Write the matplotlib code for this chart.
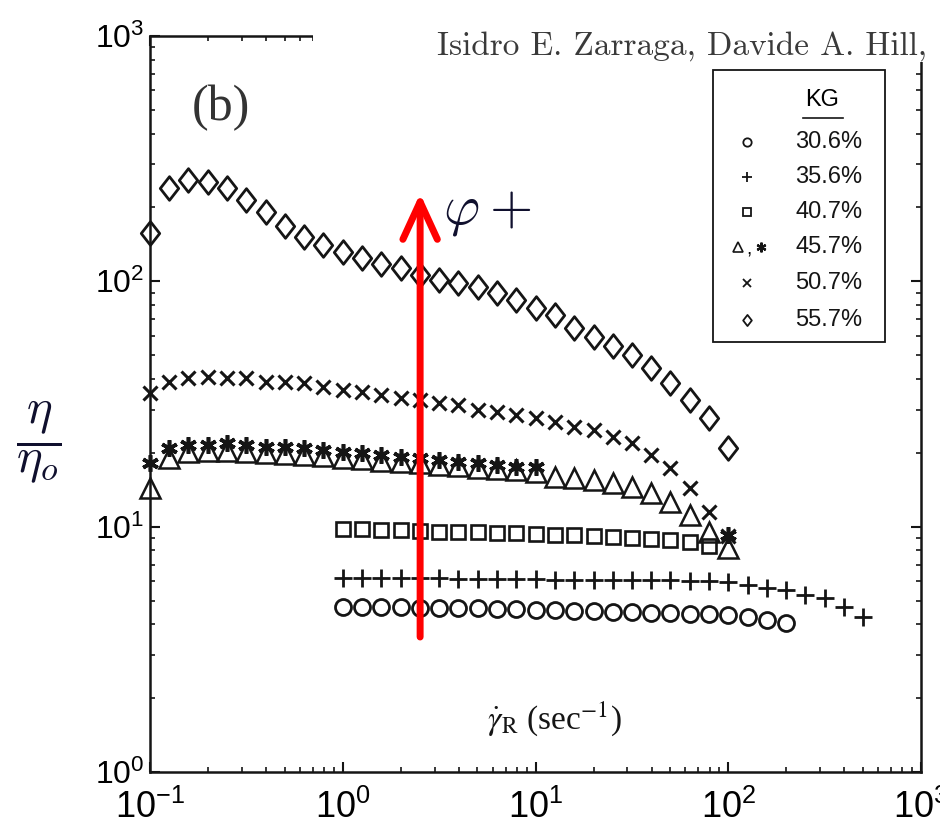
import matplotlib
matplotlib.use("Agg")
import matplotlib.pyplot as plt
from matplotlib.path import Path
from matplotlib.patches import Rectangle
from matplotlib.ticker import FuncFormatter, LogLocator
import numpy as np

# Shear rates (sec^-1), common grid used by all series
shear_rate = [0.1, 0.126, 0.158, 0.2, 0.251, 0.316, 0.398, 0.501, 0.631, 0.794,
              1.0, 1.26, 1.58, 2.0, 2.51, 3.16, 3.98, 5.01, 6.31, 7.94,
              10.0, 12.6, 15.8, 20.0, 25.1, 31.6, 39.8, 50.1, 63.1, 79.4,
              100.0, 126, 158, 200, 251, 316, 398, 501]

# Relative viscosity eta/eta_o
kg_306 = [4.71, 4.71, 4.71, 4.71, 4.66, 4.66, 4.66, 4.66, 4.62, 4.62, 4.58, 4.58,
          4.53, 4.53, 4.49, 4.49, 4.45, 4.45, 4.41, 4.41, 4.37, 4.28, 4.17, 4.05]
kg_356 = [6.18, 6.18, 6.18, 6.18, 6.18, 6.18, 6.12, 6.12, 6.12, 6.12, 6.12,
          6.06, 6.06, 6.06, 6.06, 6.06, 6.06, 6.06, 6.01, 6.01,
          5.95, 5.79, 5.62, 5.52, 5.27, 5.12, 4.71, 4.28]
kg_407 = [9.79, 9.79, 9.70, 9.70, 9.61, 9.51, 9.51, 9.51, 9.43, 9.43,
          9.34, 9.25, 9.25, 9.17, 9.08, 9.00, 8.91, 8.83, 8.66, 8.34]
kg_457_tri = [14.4, 19.1, 20.2, 20.4, 20.4, 20.2, 20.0, 19.8, 19.6, 19.4, 19.1,
              18.9, 18.5, 18.4, 18.2, 17.8, 17.7, 17.3, 17.2, 17.0, 16.7,
              15.9, 15.8, 15.5, 15.1, 14.5, 13.7, 12.6, 11.2, 9.51, 8.19]
kg_457_star = [18.2, 20.9, 21.5, 21.5, 21.9, 21.5, 21.1, 21.1, 20.9, 20.5, 20.2,
               20.0, 19.6, 19.2, 19.1, 18.7, 18.4, 18.2, 17.8, 17.5, 17.5, 9.25]
kg_507 = [35.1, 38.9, 40.4, 40.8, 40.4, 40.4, 38.9, 38.9, 38.5, 37.1, 36.1,
          35.4, 34.4, 33.5, 32.9, 31.9, 31.3, 29.9, 29.4, 28.5, 27.7,
          26.7, 25.5, 24.8, 23.2, 21.9, 19.6, 17.3, 14.4, 11.5, 9.16]
kg_557 = [157.5, 240, 259, 254, 240, 215, 192, 168, 152, 141, 132,
          125, 118, 113, 106, 101, 98.5, 94.9, 89.7, 84.0, 77.9,
          73.0, 64.6, 59.3, 54.5, 50.1, 44.4, 38.5, 32.9, 27.7, 20.9]

legend_labels = ["30.6%", "35.6%", "40.7%", "45.7%", "50.7%", "55.7%"]

plt.rcParams['mathtext.fontset'] = 'custom'
plt.rcParams['mathtext.rm'] = 'Liberation Sans'
plt.rcParams['mathtext.it'] = 'Liberation Sans:italic'
plt.rcParams['mathtext.bf'] = 'Liberation Sans:bold'
plt.rcParams['font.family'] = ['Liberation Sans', 'DejaVu Sans']

ink = '#151515'
tall_diamond = Path([(0, 1), (0.78, 0), (0, -1), (-0.78, 0), (0, 1)],
                    [Path.MOVETO, Path.LINETO, Path.LINETO, Path.LINETO, Path.CLOSEPOLY])

fig = plt.figure(figsize=(9.4, 8.34), dpi=100)
ax = fig.add_axes([150 / 940, 62 / 834, 771 / 940, 736 / 834])
ax.set_xscale('log')
ax.set_yscale('log')
ax.set_xlim(0.1, 1000)
ax.set_ylim(1, 1000)

common = dict(linestyle='none', color=ink, clip_on=False, zorder=3)
ax.plot(shear_rate[10:34], kg_306, marker='o', ms=11.5, mfc='none', mew=2.0, **common)
ax.plot(shear_rate[10:38], kg_356, marker='+', ms=13, mew=2.0, **common)
ax.plot(shear_rate[10:30], kg_407, marker='s', ms=10.5, mfc='none', mew=1.9, **common)
ax.plot(shear_rate[0:31], kg_457_tri, marker='^', ms=14, mfc='none', mew=1.8, **common)
ax.plot(shear_rate[0:21] + shear_rate[30:31], kg_457_star, marker=(6, 2, 0),
        ms=12, mew=2.6, **common)
ax.plot(shear_rate[0:31], kg_507, marker='x', ms=10.5, mew=2.2, **common)
ax.plot(shear_rate[0:31], kg_557, marker=tall_diamond, ms=17, mfc='none', mew=2.0, **common)

# axes styling
for s in ax.spines.values():
    s.set_linewidth(1.8)
    s.set_color(ink)
ax.xaxis.set_major_locator(LogLocator(base=10, numticks=10))
ax.yaxis.set_major_locator(LogLocator(base=10, numticks=10))
ax.xaxis.set_minor_locator(LogLocator(base=10, subs=np.arange(2, 10), numticks=20))
ax.yaxis.set_minor_locator(LogLocator(base=10, subs=np.arange(2, 10), numticks=20))
fmt = FuncFormatter(lambda v, p: r'$\mathregular{10^{%d}}$' % round(np.log10(v)))
ax.xaxis.set_major_formatter(fmt)
ax.yaxis.set_major_formatter(fmt)
ax.tick_params(which='both', direction='in', top=True, right=True, color=ink)
ax.tick_params(which='major', length=7, width=1.5)
ax.tick_params(which='minor', length=3.5, width=1.2)
ax.tick_params(axis='x', labelsize=26, pad=13)
ax.tick_params(axis='y', labelsize=23, pad=4)

# red arrow and phi label
ax.annotate('', xy=(2.52, 228), xytext=(2.52, 3.55),
            arrowprops=dict(arrowstyle='->,head_length=1.35,head_width=0.62',
                            color='#ff0000', lw=5, mutation_scale=20,
                            shrinkA=0, shrinkB=0), zorder=4)
ax.text(3.31, 192, r'$\varphi +$', fontsize=40, math_fontfamily='cm',
        color='#10102e', ha='left', va='center', zorder=4)

ax.text(0.092, 0.902, '(b)', transform=ax.transAxes, fontsize=36,
        family='Liberation Serif', color='#333333', ha='center', va='center')

ax.text(0.524, 0.072, r'$\dot{\gamma}_{\rm R}$ (sec$^{-1}$)', transform=ax.transAxes,
        fontsize=24, family='Liberation Serif', math_fontfamily='stix',
        color=ink, ha='center', va='center')

fig.text(39 / 940, 1 - 442 / 834, r'$\dfrac{\eta}{\eta_o}$', fontsize=35,
         math_fontfamily='cm', color='#10102e', ha='center', va='center')

# legend box
ax.add_patch(Rectangle((0.730, 0.584), 0.223, 0.370, transform=ax.transAxes,
                       facecolor='white', edgecolor=ink, lw=1.3, zorder=5))
ax.text(0.872, 0.913, 'KG', transform=ax.transAxes, fontsize=17,
        ha='center', va='center', zorder=6)
ax.plot([0.847, 0.899], [0.889, 0.889], transform=ax.transAxes, color=ink,
        lw=1.2, clip_on=False, zorder=6)
row_y = [0.856, 0.808, 0.761, 0.713, 0.664, 0.614]
leg = dict(linestyle='none', color=ink, transform=ax.transAxes, clip_on=False, zorder=6)
ax.plot([0.774], [row_y[0]], marker='o', ms=6, mfc='none', mew=1.3, **leg)
ax.plot([0.774], [row_y[1]], marker='+', ms=7, mew=1.3, **leg)
ax.plot([0.774], [row_y[2]], marker='s', ms=5.5, mfc='none', mew=1.3, **leg)
ax.plot([0.762], [row_y[3]], marker='^', ms=7, mfc='none', mew=1.2, **leg)
ax.text(0.777, row_y[3] - 0.004, ',', transform=ax.transAxes, fontsize=14,
        ha='center', va='center', zorder=6)
ax.plot([0.793], [row_y[3]], marker=(6, 2, 0), ms=7, mew=1.6, **leg)
ax.plot([0.774], [row_y[4]], marker='x', ms=5.5, mew=1.3, **leg)
ax.plot([0.774], [row_y[5]], marker=tall_diamond, ms=8, mfc='none', mew=1.3, **leg)
for lab, yy in zip(legend_labels, row_y):
    ax.text(0.837, yy, lab, transform=ax.transAxes, fontsize=17,
            ha='left', va='center', color=ink, zorder=6)

# author line pasted over the top-right of the frame
fig.add_artist(Rectangle((313 / 940, 1 - 62 / 834), 1, 62 / 834, transform=fig.transFigure,
                         facecolor='white', edgecolor='none', zorder=10))
fig.text(437 / 940, 1 - 46 / 834, 'Isidro E. Zarraga, Davide A. Hill,',
         family='cmr10', fontsize=24, color='#3a3a3a', ha='left', va='center', zorder=11)

fig.savefig('out.png', dpi=100)
